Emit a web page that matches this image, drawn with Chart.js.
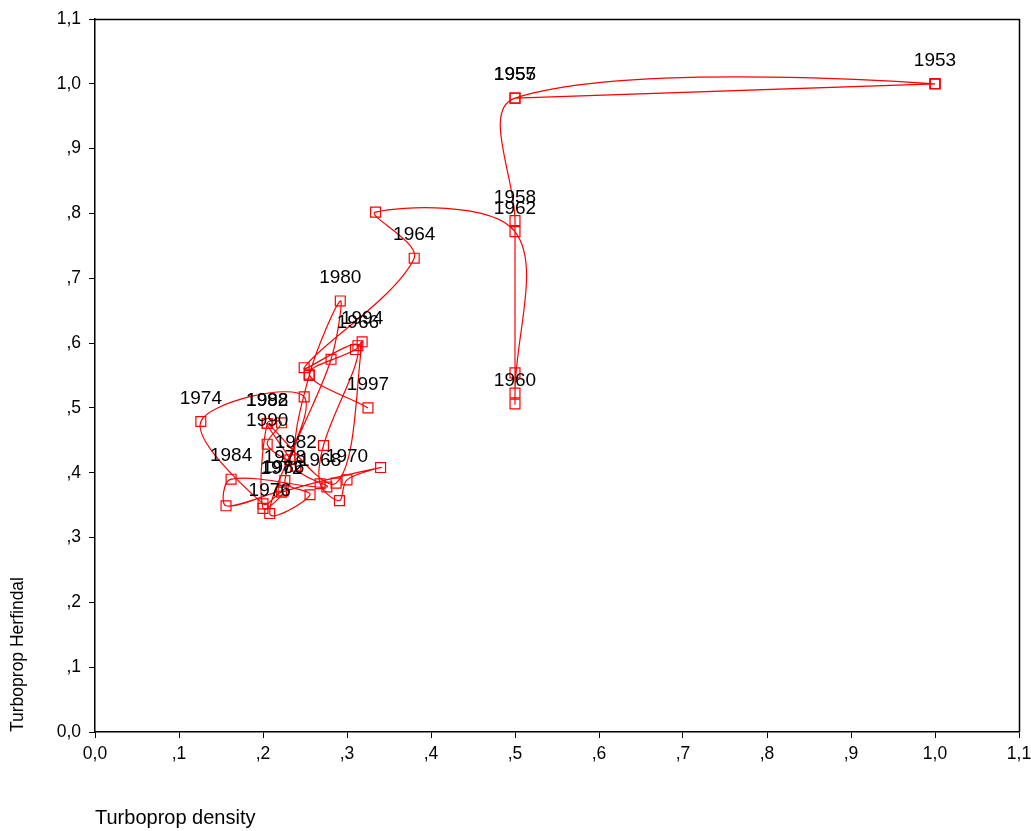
<!DOCTYPE html>
<html>
<head>
<meta charset="utf-8">
<script src="https://cdn.jsdelivr.net/npm/chart.js@4.4.1/dist/chart.umd.min.js"></script>
<style>
  html, body { margin: 0; padding: 0; background: #ffffff; }
  #wrap { position: relative; width: 1031px; height: 831px; }
</style>
</head>
<body>
<div id="wrap"><canvas id="c" width="1031" height="831"></canvas></div>
<script>
// ---- data ----
const years = [1953,1954,1955,1956,1957,1958,1959,1960,1961,1962,1963,1964,1965,1966,1967,1968,1969,1970,1971,1972,1973,1974,1975,1976,1977,1978,1979,1980,1981,1982,1983,1984,1985,1986,1987,1988,1989,1990,1991,1992,1993,1994,1995,1996,1997];
const density = [1.000,1.000,0.500,1.000,0.500,0.500,0.500,0.500,0.500,0.500,0.334,0.380,0.249,0.313,0.272,0.268,0.291,0.300,0.340,0.222,0.200,0.126,0.249,0.208,0.256,0.226,0.281,0.292,0.255,0.239,0.276,0.162,0.156,0.224,0.200,0.205,0.222,0.205,0.232,0.205,0.287,0.318,0.310,0.255,0.325];
const herfindal = [1.000,1.000,0.978,1.000,0.978,0.789,0.554,0.506,0.523,0.772,0.802,0.731,0.562,0.596,0.442,0.383,0.357,0.389,0.408,0.370,0.352,0.479,0.517,0.337,0.366,0.388,0.575,0.665,0.550,0.410,0.378,0.390,0.349,0.372,0.345,0.476,0.477,0.444,0.420,0.476,0.384,0.602,0.590,0.552,0.500];
const labeledYears = [1953,1955,1957,1958,1960,1962,1964,1966,1968,1970,1972,1974,1976,1978,1980,1982,1984,1986,1988,1990,1992,1994,1997];
const tickValues = [0,0.1,0.2,0.3,0.4,0.5,0.6,0.7,0.8,0.9,1.0,1.1];

const points = years.map((y, i) => ({ x: density[i], y: herfindal[i], year: y }));

function fmt(v) {
  const r = Math.round(v * 10) / 10;
  let s = r.toFixed(1).replace('.', ',');
  if (r > 0 && r < 1) s = s.replace(/^0/, '');
  return s;
}

const FONT = "'Liberation Sans', Arial, sans-serif";

const yearLabels = {
  id: 'yearLabels',
  afterDatasetsDraw(chart) {
    const ctx = chart.ctx;
    const meta = chart.getDatasetMeta(0);
    ctx.save();
    ctx.fillStyle = '#000000';
    ctx.font = "19px " + FONT;
    ctx.textAlign = 'center';
    ctx.textBaseline = 'middle';
    meta.data.forEach((el, i) => {
      if (labeledYears.includes(years[i])) {
        ctx.fillText(String(years[i]), el.x, el.y - 23);
      }
    });
    ctx.restore();
  }
};

const frame = {
  id: 'frame',
  afterDraw(chart) {
    const a = chart.chartArea, ctx = chart.ctx;
    ctx.save();
    ctx.strokeStyle = '#000000';
    ctx.lineWidth = 1.5;
    ctx.beginPath();
    ctx.moveTo(a.left, a.top + 0.5);
    ctx.lineTo(a.right + 0.5, a.top + 0.5);
    ctx.lineTo(a.right + 0.5, a.bottom);
    ctx.stroke();
    ctx.restore();
  }
};

new Chart(document.getElementById('c'), {
  type: 'scatter',
  data: {
    datasets: [{
      data: points,
      showLine: true,
      borderColor: '#ff0000',
      borderWidth: 1.2,
      tension: 0.35,
      pointStyle: 'rect',
      pointRadius: 7,
      pointHoverRadius: 7,
      pointBorderWidth: 1.2,
      pointBorderColor: '#ff0000',
      pointBackgroundColor: 'rgba(0,0,0,0)'
    }]
  },
  options: {
    responsive: false,
    animation: false,
    events: [],
    layout: { padding: { left: 0, right: 0, top: 19, bottom: 0 } },
    plugins: { legend: { display: false }, tooltip: { enabled: false } },
    scales: {
      x: {
        type: 'linear',
        min: 0, max: 1.1,
        afterBuildTicks(scale) { scale.ticks = tickValues.map(v => ({ value: v })); },
        afterFit(scale) { scale.height = 99; scale.paddingRight = 12; scale.paddingLeft = 0; },
        grid: { drawOnChartArea: false, drawTicks: true, tickLength: 6, tickColor: '#000', color: '#000' },
        border: { display: true, color: '#000', width: 1.5 },
        ticks: { color: '#000', font: { family: FONT, size: 17.5 }, padding: 6, maxRotation: 0, autoSkip: false,
          callback: v => fmt(v) },
        title: { display: true, text: 'Turboprop density', align: 'start', color: '#000',
          font: { family: FONT, size: 20 }, padding: { top: 0, bottom: 1 } }
      },
      y: {
        type: 'linear',
        min: 0, max: 1.1,
        afterBuildTicks(scale) { scale.ticks = tickValues.map(v => ({ value: v })); },
        afterFit(scale) { scale.width = 95; scale.paddingTop = 0; scale.paddingBottom = 0; },
        grid: { drawOnChartArea: false, drawTicks: true, tickLength: 6, tickColor: '#000', color: '#000' },
        border: { display: true, color: '#000', width: 1.5 },
        ticks: { color: '#000', font: { family: FONT, size: 17.5 }, padding: 8, autoSkip: false,
          callback: v => fmt(v) },
        title: { display: true, text: 'Turboprop Herfindal', align: 'start', color: '#000',
          font: { family: FONT, size: 17.5 }, padding: { top: 8, bottom: 0 } }
      }
    }
  },
  plugins: [yearLabels, frame]
});
</script>
</body>
</html>
